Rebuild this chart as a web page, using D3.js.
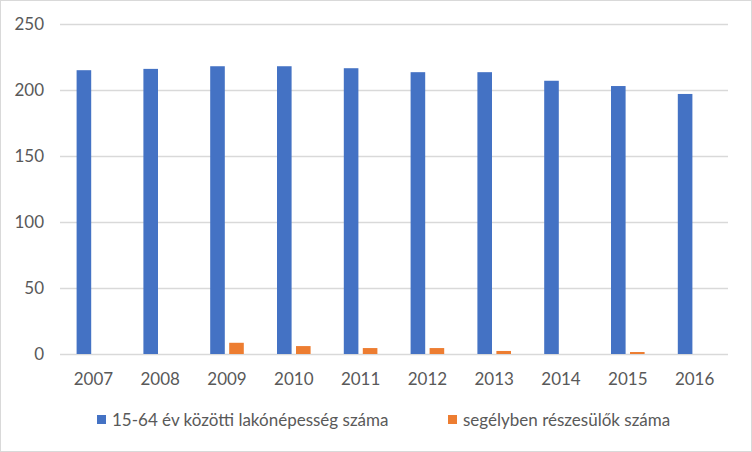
<!DOCTYPE html>
<html><head><meta charset="utf-8">
<script src="https://cdn.jsdelivr.net/npm/d3@7"></script>
<style>
html,body{margin:0;padding:0;background:#fff;}
svg{display:block;font-family:Lato,sans-serif;}
</style></head>
<body>
<svg id="chart" width="752" height="452"></svg>
<script>
const years = ["2007","2008","2009","2010","2011","2012","2013","2014","2015","2016"];
const population = [215, 216, 218, 218, 216.5, 213.5, 213.5, 207, 203, 197];
const recipients = [0, 0, 8.5, 6, 4.5, 4.5, 2.3, 0, 1.5, 0];
const seriesNames = ["15-64 év közötti lakónépesség száma", "segélyben részesülők száma"];
const yTicks = [0, 50, 100, 150, 200, 250];
const colors = ["#4472C4", "#ED7D31"];

const FONT = "Lato,sans-serif";
const FS = "17px";
const svg = d3.select("#chart");
const W = 752, H = 452;
svg.append("rect").attr("x",0.5).attr("y",0.5).attr("width",W-1).attr("height",H-1)
  .attr("fill","#fff").attr("stroke","#d9d9d9");

const m = {left:60, right:24, top:24, bottom:98};
const x = d3.scaleBand().domain(years).range([m.left, W-m.right]).padding(0);
const y = d3.scaleLinear().domain([0,250]).range([H-m.bottom, m.top]);

const yAxis = d3.axisLeft(y).tickValues(yTicks).tickSize(-(W-m.right-m.left)).tickPadding(16);
const gy = svg.append("g").attr("transform",`translate(${m.left},0)`).call(yAxis);
gy.select(".domain").remove();
gy.selectAll(".tick line").attr("stroke","#d9d9d9").attr("stroke-width",1.5);
gy.selectAll(".tick text").attr("fill","#595959").attr("font-size",FS).attr("font-family",FONT);

const xAxis = d3.axisBottom(x).tickSize(0).tickPadding(19);
const gx = svg.append("g").attr("transform",`translate(0,${H-m.bottom})`).call(xAxis);
gx.select(".domain").remove();
gx.selectAll(".tick text").attr("fill","#595959").attr("font-size",FS).attr("font-family",FONT);

const barW = 14.6, gap = 4.4;
const sub = d3.scaleOrdinal().domain([0,1]).range([-(gap/2+barW), gap/2]);
const series = [population, recipients];
series.forEach((vals, si) => {
  svg.append("g").selectAll("rect").data(vals).join("rect")
    .attr("x", (d,i) => x(years[i]) + x.bandwidth()/2 + sub(si))
    .attr("width", barW)
    .attr("y", d => y(d))
    .attr("height", d => y(0) - y(d))
    .attr("fill", colors[si]);
});

const legend = svg.append("g").attr("font-size",FS).attr("font-family",FONT);
const legendX = [97, 448];
seriesNames.forEach((n, i) => {
  legend.append("rect").attr("x", legendX[i]).attr("y", 415).attr("width", 9).attr("height", 9).attr("fill", colors[i]);
  legend.append("text").attr("x", legendX[i] + 15).attr("y", 426).attr("fill","#595959").text(n);
});
</script>
</body></html>
